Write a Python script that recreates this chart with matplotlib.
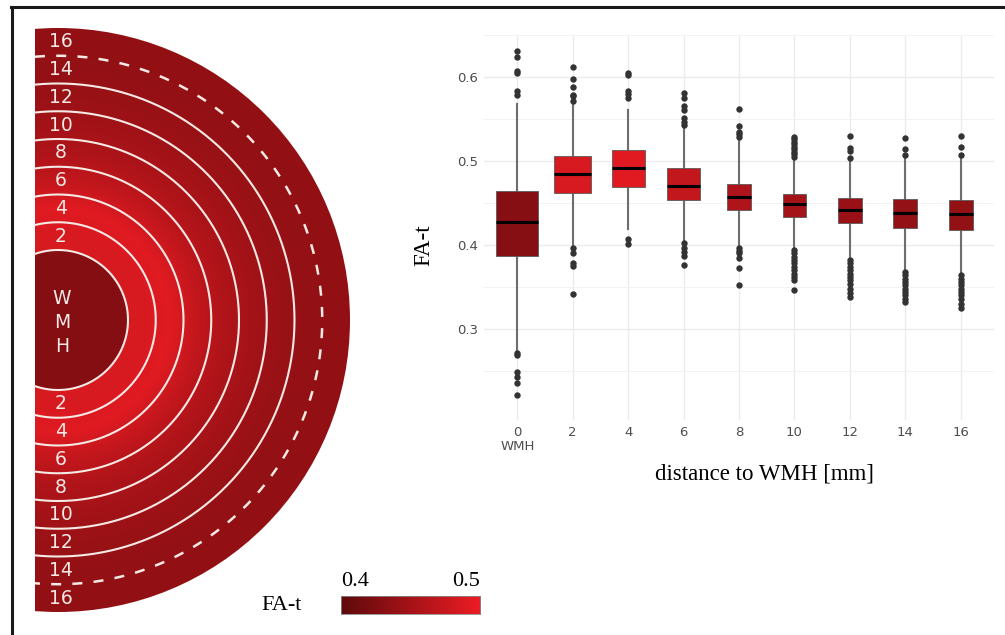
import numpy as np
import matplotlib
matplotlib.use('Agg')
import matplotlib.pyplot as plt
from matplotlib.colors import LinearSegmentedColormap
from matplotlib.patches import Circle
from matplotlib.lines import Line2D

# FA-t per distance bin from the WMH border
distances = ['0', '2', '4', '6', '8', '10', '12', '14', '16']
tick_labels = ['0\nWMH', '2', '4', '6', '8', '10', '12', '14', '16']

medians = [0.427, 0.4845, 0.4913, 0.470, 0.4567, 0.4488, 0.4417, 0.4377, 0.4365]
q1 = [0.3873, 0.4616, 0.4694, 0.4536, 0.4417, 0.4330, 0.4258, 0.4206, 0.4180]
q3 = [0.4643, 0.5060, 0.5130, 0.4913, 0.4726, 0.4607, 0.4563, 0.4544, 0.4536]
whisk_lo = [0.274, 0.398, 0.4187, 0.404, 0.400, 0.396, 0.384, 0.370, 0.366]
whisk_hi = [0.568, 0.5667, 0.561, 0.5377, 0.525, 0.501, 0.503, 0.503, 0.503]
outliers = [
    [0.631, 0.624, 0.607, 0.605, 0.583, 0.579, 0.272, 0.269, 0.249, 0.243, 0.236, 0.221],
    [0.612, 0.598, 0.588, 0.579, 0.577, 0.572, 0.396, 0.391, 0.378, 0.375, 0.342],
    [0.605, 0.602, 0.583, 0.580, 0.575, 0.407, 0.401],
    [0.581, 0.575, 0.565, 0.561, 0.551, 0.547, 0.543, 0.402, 0.396, 0.392, 0.387, 0.376],
    [0.562, 0.542, 0.535, 0.532, 0.528, 0.396, 0.393, 0.390, 0.384, 0.373, 0.352],
    [0.529, 0.526, 0.523, 0.520, 0.517, 0.514, 0.511, 0.508, 0.505,
     0.394, 0.390, 0.386, 0.382, 0.378, 0.374, 0.370, 0.366, 0.362, 0.358, 0.346],
    [0.530, 0.516, 0.512, 0.504, 0.382, 0.378, 0.374, 0.370, 0.366, 0.362,
     0.358, 0.354, 0.348, 0.343, 0.338],
    [0.527, 0.514, 0.507, 0.368, 0.364, 0.360, 0.356, 0.352, 0.348, 0.344,
     0.340, 0.336, 0.332],
    [0.530, 0.517, 0.507, 0.364, 0.360, 0.356, 0.352, 0.348, 0.344, 0.340,
     0.336, 0.330, 0.325],
]
box_w = [0.76, 0.67, 0.6, 0.6, 0.43, 0.43, 0.43, 0.43, 0.43]

cmap = LinearSegmentedColormap.from_list('fa', ['#5e0a0c', '#ed1c24'])
vmin, vmax = 0.4, 0.5

fig = plt.figure(figsize=(10.05, 6.35), dpi=100)

# ---- left: ring schematic, drawn in pixel units ----
ax0 = fig.add_axes([0, 0, 1, 1])
cx, cy = 58, 320
r_wmh, step = 70, 27.75
r_out = r_wmh + step * 8
band_mid = r_wmh + step * (np.arange(8) + 0.5)

xs = np.arange(35, cx + r_out + 1, 1.0)
ys = np.arange(cy - r_out - 1, cy + r_out + 1, 1.0)
X, Y = np.meshgrid(xs, ys)
R = np.hypot(X - cx, Y - cy)
val = np.interp(R, band_mid, medians[1:])
val[R < r_wmh] = medians[0]
im = ax0.imshow(val, cmap=cmap, vmin=vmin, vmax=vmax, origin='upper',
                extent=(xs[0], xs[-1], ys[-1], ys[0]), interpolation='bilinear')
im.set_clip_path(Circle((cx, cy), r_out, transform=ax0.transData))

ring_col = '#f4e9e4'
for i in range(8):
    r = r_wmh + step * i
    th = np.arccos((35 - cx) / r)
    t = np.linspace(-th, th, 400)
    if i == 7:
        ax0.plot(cx + r * np.cos(t), cy + r * np.sin(t), color=ring_col, lw=1.8,
                 ls=(0, (4, 4.5)))
    else:
        ax0.plot(cx + r * np.cos(t), cy + r * np.sin(t), color=ring_col, lw=1.5)

for i, lab in enumerate(distances[1:]):
    for sgn in (-1, 1):
        ax0.text(61, cy + sgn * band_mid[i], lab, color=ring_col, fontsize=13.5,
                 ha='center', va='center')
for k, ch in enumerate('WMH'):
    ax0.text(62, cy - 22 + 24 * k, ch, color=ring_col, fontsize=13.5, ha='center', va='center')

ax0.set_xlim(0, 1005)
ax0.set_ylim(635, 0)
ax0.set_aspect('auto')
ax0.axis('off')

# frame lines
fig.add_artist(Line2D([11 / 1005, 1], [1 - 7 / 635, 1 - 7 / 635], color='#1a1a1a', lw=2.2))
fig.add_artist(Line2D([12 / 1005, 12 / 1005], [0, 1 - 7 / 635], color='#1a1a1a', lw=2.2))

# ---- right: boxplots ----
ax = fig.add_axes([484 / 1005, 1 - 420 / 635, 510 / 1005, 385 / 635])
pos = np.arange(1, len(medians) + 1)
stats = []
for i in range(len(medians)):
    stats.append(dict(med=medians[i], q1=q1[i], q3=q3[i], whislo=whisk_lo[i],
                      whishi=whisk_hi[i], fliers=outliers[i]))
bp = ax.bxp(stats, positions=pos, widths=box_w, patch_artist=True, showcaps=False,
            boxprops=dict(edgecolor='#5a5a5a', linewidth=0.6),
            medianprops=dict(color='black', linewidth=2.2),
            whiskerprops=dict(color='#6e6e6e', linewidth=1.5),
            flierprops=dict(marker='o', markersize=4.6, markerfacecolor='#333333',
                            markeredgecolor='none'))
for patch, m in zip(bp['boxes'], medians):
    patch.set_facecolor(cmap((m - vmin) / (vmax - vmin)))
    patch.set_zorder(3)
for m in bp['medians']:
    m.set_zorder(4)

ax.set_xlim(0.4, 9.6)
ax.set_ylim(0.1917, 0.65)
ax.set_xticks(pos)
ax.set_xticklabels(tick_labels, linespacing=1.1)
ax.set_yticks([0.3, 0.4, 0.5, 0.6])
ax.set_yticks([0.25, 0.35, 0.45, 0.55, 0.65], minor=True)
ax.tick_params(length=0, labelsize=9.5, labelcolor='#4d4d4d', pad=4)
ax.tick_params(which='minor', length=0)
ax.grid(True, which='major', color='#ebebeb', lw=1.0)
ax.grid(True, which='minor', axis='y', color='#f2f2f2', lw=0.7)
ax.set_axisbelow(True)
for s in ax.spines.values():
    s.set_visible(False)

serif = ['Liberation Serif', 'DejaVu Serif']
fig.text(424 / 1005, 1 - 245 / 635, 'FA-t', rotation=90, ha='center', va='center',
         fontsize=16.5, family=serif)
fig.text(764 / 1005, 1 - 474 / 635, 'distance to WMH [mm]', ha='center', va='center',
         fontsize=16.5, family=serif)

# ---- colour legend ----
cax = fig.add_axes([341 / 1005, 1 - 614 / 635, 139 / 1005, 18 / 635])
cax.imshow(np.linspace(vmin, vmax, 256)[None, :], cmap=cmap, vmin=vmin, vmax=vmax,
           aspect='auto', extent=(vmin, vmax, 0, 1))
cax.set_xticks([])
cax.set_yticks([])
for s in cax.spines.values():
    s.set_color('#888888')
    s.set_linewidth(0.6)
cax.text(0, 1.25, '0.4', transform=cax.transAxes, ha='left', va='bottom',
         fontsize=16, family=serif)
cax.text(1, 1.25, '0.5', transform=cax.transAxes, ha='right', va='bottom',
         fontsize=16, family=serif)
fig.text(282 / 1005, 1 - 605 / 635, 'FA-t', ha='center', va='center', fontsize=16, family=serif)

fig.savefig('out.png', dpi=100)
